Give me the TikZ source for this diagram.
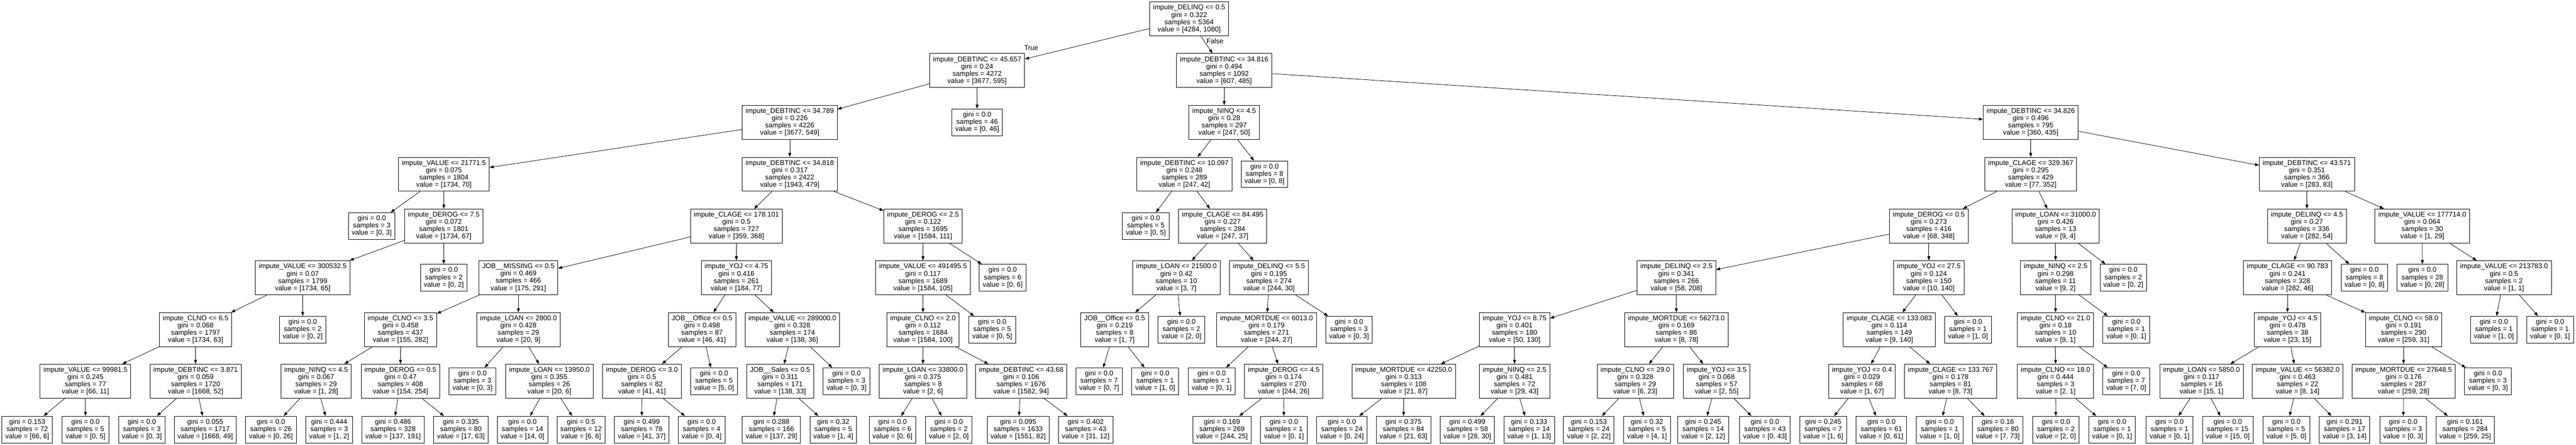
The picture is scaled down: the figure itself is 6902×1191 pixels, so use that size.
\documentclass[tikz,border=0pt]{standalone}
\usepackage{fontspec}
\setmainfont{Liberation Sans}
\usetikzlibrary{arrows.meta}
\tikzset{
  box/.style={draw=black, line width=0.65pt, rectangle, align=center,
    font=\fontsize{9.3pt}{9.75pt}\selectfont, inner xsep=4.5pt, inner ysep=0pt},
  split/.style={box, minimum height=45.5pt},
  leafbox/.style={box, minimum height=35.75pt},
  edge/.style={draw=black, line width=0.55pt, -{Triangle[length=5.5pt,width=4pt]}},
  elabel/.style={font=\fontsize{9.3pt}{9.75pt}\selectfont, inner sep=0pt}
}
\newcommand\SplitNode[7]{\node[split] (#1) at (#2,#3) {#4\\gini = #5\\samples = #6\\value = [#7]};}
\newcommand\LeafNode[6]{\node[leafbox] (#1) at (#2,#3) {gini = #4\\samples = #5\\value = [#6]};}
\newcommand\Edge[2]{\draw[edge] (#1) -- (#2);}
\begin{document}
\begin{tikzpicture}[x=0.5pt,y=-0.5pt]
\fill[white] (0,0) rectangle (6902,1191);
\useasboundingbox (0,0) rectangle (6902,1191);
% rank 0
\SplitNode{n0}{3186}{50.5}{impute\_DELINQ <= 0.5}{0.322}{5364}{4284, 1080}
% rank 1
\SplitNode{n1}{2618}{189}{impute\_DEBTINC <= 45.657}{0.24}{4272}{3677, 595}
\SplitNode{n2}{3280}{189}{impute\_DEBTINC <= 34.816}{0.494}{1092}{607, 485}
% rank 2
\SplitNode{n3}{2116}{327.5}{impute\_DEBTINC <= 34.789}{0.226}{4226}{3677, 549}
\LeafNode{n4}{2618}{327.5}{0.0}{46}{0, 46}
\SplitNode{n5}{3280}{327.5}{impute\_NINQ <= 4.5}{0.28}{297}{247, 50}
\SplitNode{n6}{5441}{327.5}{impute\_DEBTINC <= 34.826}{0.496}{795}{360, 435}
% rank 3
\SplitNode{n7}{1189.5}{466.5}{impute\_VALUE <= 21771.5}{0.075}{1804}{1734, 70}
\SplitNode{n8}{2116}{466.5}{impute\_DEBTINC <= 34.818}{0.317}{2422}{1943, 479}
\SplitNode{n9}{3173.5}{466.5}{impute\_DEBTINC <= 10.097}{0.248}{289}{247, 42}
\LeafNode{n10}{3388}{466.5}{0.0}{8}{0, 8}
\SplitNode{n11}{5441}{466.5}{impute\_CLAGE <= 329.367}{0.295}{429}{77, 352}
\SplitNode{n12}{6181}{466.5}{impute\_DEBTINC <= 43.571}{0.351}{366}{283, 83}
% rank 4
\LeafNode{n13}{996}{605}{0.0}{3}{0, 3}
\SplitNode{n14}{1189}{605}{impute\_DEROG <= 7.5}{0.072}{1801}{1734, 67}
\SplitNode{n15}{1973}{605}{impute\_CLAGE <= 178.101}{0.5}{727}{359, 368}
\SplitNode{n16}{2473}{605}{impute\_DEROG <= 2.5}{0.122}{1695}{1584, 111}
\LeafNode{n17}{3070}{605}{0.0}{5}{0, 5}
\SplitNode{n18}{3276}{605}{impute\_CLAGE <= 84.495}{0.227}{284}{247, 37}
\SplitNode{n19}{5168}{605}{impute\_DEROG <= 0.5}{0.273}{416}{68, 348}
\SplitNode{n20}{5507.5}{605}{impute\_LOAN <= 31000.0}{0.426}{13}{9, 4}
\SplitNode{n21}{6181}{605}{impute\_DELINQ <= 4.5}{0.27}{336}{282, 54}
\SplitNode{n22}{6490}{605}{impute\_VALUE <= 177714.0}{0.064}{30}{1, 29}
% rank 5
\SplitNode{n23}{811}{743.5}{impute\_VALUE <= 300532.5}{0.07}{1799}{1734, 65}
\LeafNode{n24}{1189}{743.5}{0.0}{2}{0, 2}
\SplitNode{n25}{1389}{743.5}{JOB\_\_MISSING <= 0.5}{0.469}{466}{175, 291}
\SplitNode{n26}{1973}{743.5}{impute\_YOJ <= 4.75}{0.416}{261}{184, 77}
\SplitNode{n27}{2473}{743.5}{impute\_VALUE <= 491495.5}{0.117}{1689}{1584, 105}
\LeafNode{n28}{2686.5}{743.5}{0.0}{6}{0, 6}
\SplitNode{n29}{3152}{743.5}{impute\_LOAN <= 21500.0}{0.42}{10}{3, 7}
\SplitNode{n30}{3400}{743.5}{impute\_DELINQ <= 5.5}{0.195}{274}{244, 30}
\SplitNode{n31}{4491.5}{743.5}{impute\_DELINQ <= 2.5}{0.341}{266}{58, 208}
\SplitNode{n32}{5168}{743.5}{impute\_YOJ <= 27.5}{0.124}{150}{10, 140}
\SplitNode{n33}{5507.5}{743.5}{impute\_NINQ <= 2.5}{0.298}{11}{9, 2}
\LeafNode{n34}{5689}{743.5}{0.0}{2}{0, 2}
\SplitNode{n35}{6129}{743.5}{impute\_CLAGE <= 90.783}{0.241}{328}{282, 46}
\LeafNode{n36}{6335}{743.5}{0.0}{8}{0, 8}
\LeafNode{n37}{6490.5}{743.5}{0.0}{28}{0, 28}
\SplitNode{n38}{6709}{743.5}{impute\_VALUE <= 213783.0}{0.5}{2}{1, 1}
% rank 6
\SplitNode{n39}{524}{882.5}{impute\_CLNO <= 6.5}{0.068}{1797}{1734, 63}
\LeafNode{n40}{811}{882.5}{0.0}{2}{0, 2}
\SplitNode{n41}{1073}{882.5}{impute\_CLNO <= 3.5}{0.458}{437}{155, 282}
\SplitNode{n42}{1389}{882.5}{impute\_LOAN <= 2800.0}{0.428}{29}{20, 9}
\SplitNode{n43}{1881}{882.5}{JOB\_\_Office <= 0.5}{0.498}{87}{46, 41}
\SplitNode{n44}{2123}{882.5}{impute\_VALUE <= 289000.0}{0.328}{174}{138, 36}
\SplitNode{n45}{2473}{882.5}{impute\_CLNO <= 2.0}{0.112}{1684}{1584, 100}
\LeafNode{n46}{2658.5}{882.5}{0.0}{5}{0, 5}
\SplitNode{n47}{2986.5}{882.5}{JOB\_\_Office <= 0.5}{0.219}{8}{1, 7}
\LeafNode{n48}{3165.5}{882.5}{0.0}{2}{2, 0}
\SplitNode{n49}{3393.5}{882.5}{impute\_MORTDUE <= 6013.0}{0.179}{271}{244, 27}
\LeafNode{n50}{3614.5}{882.5}{0.0}{3}{0, 3}
\SplitNode{n51}{4058}{882.5}{impute\_YOJ <= 8.75}{0.401}{180}{50, 130}
\SplitNode{n52}{4491.5}{882.5}{impute\_MORTDUE <= 56273.0}{0.169}{86}{8, 78}
\SplitNode{n53}{5062}{882.5}{impute\_CLAGE <= 133.083}{0.114}{149}{9, 140}
\LeafNode{n54}{5273}{882.5}{0.0}{1}{1, 0}
\SplitNode{n55}{5507.5}{882.5}{impute\_CLNO <= 21.0}{0.18}{10}{9, 1}
\LeafNode{n56}{5697}{882.5}{0.0}{1}{0, 1}
\SplitNode{n57}{6129}{882.5}{impute\_YOJ <= 4.5}{0.478}{38}{23, 15}
\SplitNode{n58}{6440}{882.5}{impute\_CLNO <= 58.0}{0.191}{290}{259, 31}
\LeafNode{n59}{6682}{882.5}{0.0}{1}{1, 0}
\LeafNode{n60}{6832.5}{882.5}{0.0}{1}{0, 1}
% rank 7
\SplitNode{n61}{229}{1020.5}{impute\_VALUE <= 99981.5}{0.245}{77}{66, 11}
\SplitNode{n62}{524}{1020.5}{impute\_DEBTINC <= 3.871}{0.059}{1720}{1668, 52}
\SplitNode{n63}{847}{1020.5}{impute\_NINQ <= 4.5}{0.067}{29}{1, 28}
\SplitNode{n64}{1073}{1020.5}{impute\_DEROG <= 0.5}{0.47}{408}{154, 254}
\LeafNode{n65}{1266}{1020.5}{0.0}{3}{0, 3}
\SplitNode{n66}{1472}{1020.5}{impute\_LOAN <= 13950.0}{0.355}{26}{20, 6}
\SplitNode{n67}{1720}{1020.5}{impute\_DEROG <= 3.0}{0.5}{82}{41, 41}
\LeafNode{n68}{1913}{1020.5}{0.0}{5}{5, 0}
\SplitNode{n69}{2090}{1020.5}{JOB\_\_Sales <= 0.5}{0.311}{171}{138, 33}
\LeafNode{n70}{2268}{1020.5}{0.0}{3}{0, 3}
\SplitNode{n71}{2473}{1020.5}{impute\_LOAN <= 33800.0}{0.375}{8}{2, 6}
\SplitNode{n72}{2736}{1020.5}{impute\_DEBTINC <= 43.68}{0.106}{1676}{1582, 94}
\LeafNode{n73}{2945}{1020.5}{0.0}{7}{0, 7}
\LeafNode{n74}{3095}{1020.5}{0.0}{1}{1, 0}
\LeafNode{n75}{3246.5}{1020.5}{0.0}{1}{0, 1}
\SplitNode{n76}{3439.5}{1020.5}{impute\_DEROG <= 4.5}{0.174}{270}{244, 26}
\SplitNode{n77}{3761}{1020.5}{impute\_MORTDUE <= 42250.0}{0.313}{108}{21, 87}
\SplitNode{n78}{4058}{1020.5}{impute\_NINQ <= 2.5}{0.481}{72}{29, 43}
\SplitNode{n79}{4381.5}{1020.5}{impute\_CLNO <= 29.0}{0.328}{29}{6, 23}
\SplitNode{n80}{4599.5}{1020.5}{impute\_YOJ <= 3.5}{0.068}{57}{2, 55}
\SplitNode{n81}{4989}{1020.5}{impute\_YOJ <= 0.4}{0.029}{68}{1, 67}
\SplitNode{n82}{5226}{1020.5}{impute\_CLAGE <= 133.767}{0.178}{81}{8, 73}
\SplitNode{n83}{5507.5}{1020.5}{impute\_CLNO <= 18.0}{0.444}{3}{2, 1}
\LeafNode{n84}{5697}{1020.5}{0.0}{7}{7, 0}
\SplitNode{n85}{5898.5}{1020.5}{impute\_LOAN <= 5850.0}{0.117}{16}{15, 1}
\SplitNode{n86}{6156}{1020.5}{impute\_VALUE <= 56382.0}{0.463}{22}{8, 14}
\SplitNode{n87}{6440}{1020.5}{impute\_MORTDUE <= 27648.5}{0.176}{287}{259, 28}
\LeafNode{n88}{6666}{1020.5}{0.0}{3}{0, 3}
% rank 8
\LeafNode{n89}{73}{1150}{0.153}{72}{66, 6}
\LeafNode{n90}{229}{1150}{0.0}{5}{0, 5}
\LeafNode{n91}{380}{1150}{0.0}{3}{0, 3}
\LeafNode{n92}{550}{1150}{0.055}{1717}{1668, 49}
\LeafNode{n93}{726}{1150}{0.0}{26}{0, 26}
\LeafNode{n94}{882}{1150}{0.444}{3}{1, 2}
\LeafNode{n95}{1053}{1150}{0.486}{328}{137, 191}
\LeafNode{n96}{1235}{1150}{0.335}{80}{17, 63}
\LeafNode{n97}{1400}{1150}{0.0}{14}{14, 0}
\LeafNode{n98}{1557}{1150}{0.5}{12}{6, 6}
\LeafNode{n99}{1719.5}{1150}{0.499}{78}{41, 37}
\LeafNode{n100}{1880}{1150}{0.0}{4}{0, 4}
\LeafNode{n101}{2067}{1150}{0.288}{166}{137, 29}
\LeafNode{n102}{2232.5}{1150}{0.32}{5}{1, 4}
\LeafNode{n103}{2391.5}{1150}{0.0}{6}{0, 6}
\LeafNode{n104}{2542}{1150}{0.0}{2}{2, 0}
\LeafNode{n105}{2728}{1150}{0.095}{1633}{1551, 82}
\LeafNode{n106}{2909}{1150}{0.402}{43}{31, 12}
\LeafNode{n107}{3274}{1150}{0.169}{269}{244, 25}
\LeafNode{n108}{3440}{1150}{0.0}{1}{0, 1}
\LeafNode{n109}{3595.5}{1150}{0.0}{24}{0, 24}
\LeafNode{n110}{3760.5}{1150}{0.375}{84}{21, 63}
\LeafNode{n111}{3931.5}{1150}{0.499}{58}{28, 30}
\LeafNode{n112}{4097}{1150}{0.133}{14}{1, 13}
\LeafNode{n113}{4257}{1150}{0.153}{24}{2, 22}
\LeafNode{n114}{4413}{1150}{0.32}{5}{4, 1}
\LeafNode{n115}{4563.5}{1150}{0.245}{14}{2, 12}
\LeafNode{n116}{4729}{1150}{0.0}{43}{0, 43}
\LeafNode{n117}{4885}{1150}{0.245}{7}{1, 6}
\LeafNode{n118}{5041}{1150}{0.0}{61}{0, 61}
\LeafNode{n119}{5197}{1150}{0.0}{1}{1, 0}
\LeafNode{n120}{5353}{1150}{0.16}{80}{7, 73}
\LeafNode{n121}{5508.5}{1150}{0.0}{2}{2, 0}
\LeafNode{n122}{5659}{1150}{0.0}{1}{0, 1}
\LeafNode{n123}{5813}{1150}{0.0}{1}{0, 1}
\LeafNode{n124}{5969}{1150}{0.0}{15}{15, 0}
\LeafNode{n125}{6126}{1150}{0.0}{5}{5, 0}
\LeafNode{n126}{6282}{1150}{0.291}{17}{3, 14}
\LeafNode{n127}{6439}{1150}{0.0}{3}{0, 3}
\LeafNode{n128}{6605}{1150}{0.161}{284}{259, 25}
% edge labels
\node[elabel] (tlab) at (2763,128) {True};
\node[elabel] (flab) at (3255.5,110) {False};
% edges
\Edge{n0}{n1}\Edge{n0}{n2}
\Edge{n1}{n3}\Edge{n1}{n4}
\Edge{n2}{n5}\Edge{n2}{n6}
\Edge{n3}{n7}\Edge{n3}{n8}
\Edge{n5}{n9}\Edge{n5}{n10}
\Edge{n6}{n11}\Edge{n6}{n12}
\Edge{n7}{n13}\Edge{n7}{n14}
\Edge{n8}{n15}\Edge{n8}{n16}
\Edge{n9}{n17}\Edge{n9}{n18}
\Edge{n11}{n19}\Edge{n11}{n20}
\Edge{n12}{n21}\Edge{n12}{n22}
\Edge{n14}{n23}\Edge{n14}{n24}
\Edge{n15}{n25}\Edge{n15}{n26}
\Edge{n16}{n27}\Edge{n16}{n28}
\Edge{n18}{n29}\Edge{n18}{n30}
\Edge{n19}{n31}\Edge{n19}{n32}
\Edge{n20}{n33}\Edge{n20}{n34}
\Edge{n21}{n35}\Edge{n21}{n36}
\Edge{n22}{n37}\Edge{n22}{n38}
\Edge{n23}{n39}\Edge{n23}{n40}
\Edge{n25}{n41}\Edge{n25}{n42}
\Edge{n26}{n43}\Edge{n26}{n44}
\Edge{n27}{n45}\Edge{n27}{n46}
\Edge{n29}{n47}\Edge{n29}{n48}
\Edge{n30}{n49}\Edge{n30}{n50}
\Edge{n31}{n51}\Edge{n31}{n52}
\Edge{n32}{n53}\Edge{n32}{n54}
\Edge{n33}{n55}\Edge{n33}{n56}
\Edge{n35}{n57}\Edge{n35}{n58}
\Edge{n38}{n59}\Edge{n38}{n60}
\Edge{n39}{n61}\Edge{n39}{n62}
\Edge{n41}{n63}\Edge{n41}{n64}
\Edge{n42}{n65}\Edge{n42}{n66}
\Edge{n43}{n67}\Edge{n43}{n68}
\Edge{n44}{n69}\Edge{n44}{n70}
\Edge{n45}{n71}\Edge{n45}{n72}
\Edge{n47}{n73}\Edge{n47}{n74}
\Edge{n49}{n75}\Edge{n49}{n76}
\Edge{n51}{n77}\Edge{n51}{n78}
\Edge{n52}{n79}\Edge{n52}{n80}
\Edge{n53}{n81}\Edge{n53}{n82}
\Edge{n55}{n83}\Edge{n55}{n84}
\Edge{n57}{n85}\Edge{n57}{n86}
\Edge{n58}{n87}\Edge{n58}{n88}
\Edge{n61}{n89}\Edge{n61}{n90}
\Edge{n62}{n91}\Edge{n62}{n92}
\Edge{n63}{n93}\Edge{n63}{n94}
\Edge{n64}{n95}\Edge{n64}{n96}
\Edge{n66}{n97}\Edge{n66}{n98}
\Edge{n67}{n99}\Edge{n67}{n100}
\Edge{n69}{n101}\Edge{n69}{n102}
\Edge{n71}{n103}\Edge{n71}{n104}
\Edge{n72}{n105}\Edge{n72}{n106}
\Edge{n76}{n107}\Edge{n76}{n108}
\Edge{n77}{n109}\Edge{n77}{n110}
\Edge{n78}{n111}\Edge{n78}{n112}
\Edge{n79}{n113}\Edge{n79}{n114}
\Edge{n80}{n115}\Edge{n80}{n116}
\Edge{n81}{n117}\Edge{n81}{n118}
\Edge{n82}{n119}\Edge{n82}{n120}
\Edge{n83}{n121}\Edge{n83}{n122}
\Edge{n85}{n123}\Edge{n85}{n124}
\Edge{n86}{n125}\Edge{n86}{n126}
\Edge{n87}{n127}\Edge{n87}{n128}
\end{tikzpicture}
\end{document}
